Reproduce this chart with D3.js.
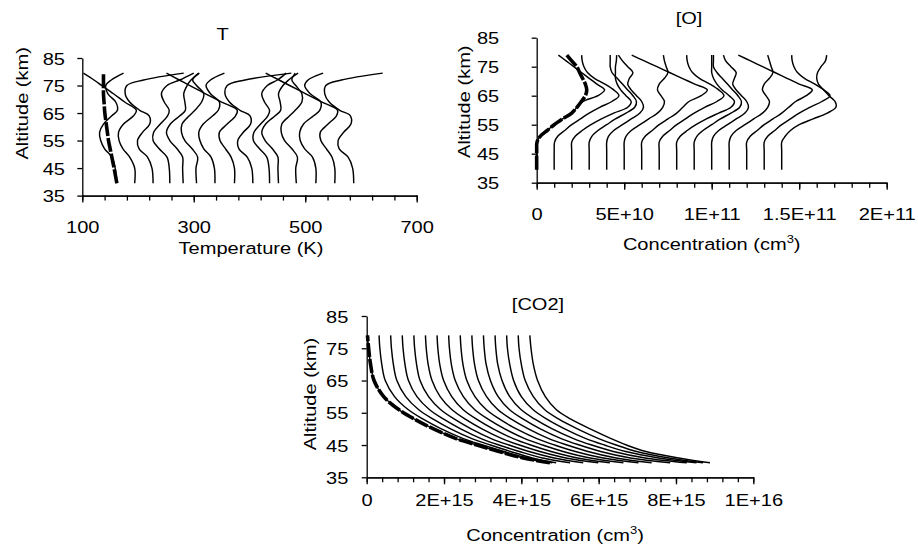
<!DOCTYPE html>
<html>
<head>
<meta charset="utf-8">
<script src="https://cdn.jsdelivr.net/npm/d3@7"></script>
<style>
  body { margin: 0; background: #fff; }
  svg { display: block; }
  text { font-family: "Liberation Sans", Arial, sans-serif; font-size: 17px; fill: #000; }
  .domain, .tick line { stroke: #000; stroke-width: 1.3px; }
</style>
</head>
<body>
<script>
// ---- T panel data (K) ----
const altT = [39.5, 45, 49, 52, 55, 58, 61, 64, 66, 69, 72, 75, 77, 79.5]
const tempMean = [162, 157, 153, 150, 147, 145, 143, 141, 140, 139, 138, 138, 138, 138]
const tempProfiles = [
  [161, 159, 153, 140, 133, 131, 138, 153, 163, 160, 146, 142, 152, 174],
  [194, 194, 185, 173, 166, 165, 174, 192, 197, 176, 156, 135, 121, 102],
  [227, 225, 217, 202, 199, 208, 221, 220, 203, 185, 177, 180, 210, 282],
  [257, 256, 252, 238, 227, 228, 240, 253, 256, 247, 242, 252, 275, 300],
  [281, 280, 280, 270, 257, 251, 258, 275, 285, 284, 282, 288, 295, 310],
  [305, 304, 307, 297, 284, 278, 279, 292, 302, 314, 318, 305, 298, 309],
  [338, 337, 331, 318, 311, 309, 317, 334, 344, 346, 330, 322, 330, 355],
  [373, 373, 367, 357, 347, 346, 360, 375, 378, 350, 321, 293, 274, 251],
  [406, 404, 396, 381, 379, 389, 402, 401, 383, 364, 356, 360, 392, 475],
  [436, 435, 431, 418, 407, 408, 420, 433, 436, 427, 422, 432, 450, 466],
  [452, 451, 451, 441, 428, 422, 429, 446, 456, 455, 452, 460, 470, 487],
  [484, 483, 486, 476, 463, 457, 458, 472, 482, 494, 494, 483, 476, 482],
  [519, 519, 513, 499, 491, 490, 497, 515, 526, 528, 509, 499, 505, 532],
  [553, 553, 548, 538, 528, 527, 541, 556, 558, 530, 501, 472, 453, 429],
  [587, 585, 577, 561, 559, 569, 582, 581, 562, 543, 535, 537, 565, 639]
]
const tempMajor = [100, 300, 500, 700]
const tempLabels = ['100', '300', '500', '700']

// ---- [O] panel data (1E+10 cm-3) ----
const altO = [39.5, 46, 49, 51, 53, 55, 57, 59, 61, 63, 65, 67, 69, 71, 73, 75, 77, 79]
const oxMean = [0, 0, 0.02, 0.2, 0.6, 1.0, 1.48, 2.0, 2.3, 2.55, 2.78, 2.86, 2.78, 2.62, 2.45, 2.29, 2.0, 1.72]
const oxProfiles = [
  [0, 0, 0.02, 0.2, 0.6, 1.0, 1.48, 2.0, 2.3, 2.65, 3.5, 3.88, 3.44, 3.0, 2.56, 2.12, 1.68, 1.24],
  [1, 1, 1.02, 1.2, 1.6, 2.0, 2.5, 3.0, 3.6, 4.3, 4.7, 4.4, 3.9, 3.3, 2.9, 2.7, 2.6, 2.57],
  [2, 2, 2, 2.2, 2.6, 3.1, 3.7, 4.4, 5.2, 5.4, 5.1, 4.8, 4.6, 4.5, 4.5, 4.5, 4.55, 4.57],
  [3, 3, 3, 3.15, 3.5, 4.0, 4.5, 5.1, 5.6, 5.7, 5.5, 5.2, 4.9, 4.6, 4.3, 4.2, 4.2, 4.2],
  [4, 4, 4, 4.1, 4.4, 4.9, 5.4, 5.9, 6.1, 6.0, 5.7, 5.4, 5.2, 5.3, 5.5, 5.2, 4.9, 4.67],
  [5, 5, 5, 5.1, 5.4, 5.9, 6.4, 6.9, 7.2, 7.3, 7.1, 6.9, 7.0, 7.3, 7.5, 7.4, 7.3, 7.24],
  [6, 6, 6, 6.2, 6.6, 7.0, 7.5, 8.0, 8.35, 8.7, 9.4, 9.75, 9.03, 8.31, 7.59, 6.87, 6.15, 5.43],
  [7, 7, 7, 7.2, 7.6, 8.0, 8.5, 9.0, 9.6, 10.3, 10.7, 10.4, 9.9, 9.3, 8.9, 8.7, 8.6, 8.57],
  [8, 8, 8, 8.2, 8.6, 9.1, 9.7, 10.4, 11.1, 11.3, 11.0, 10.6, 10.3, 10.1, 10.0, 10.0, 10.0, 10.0],
  [9, 9, 9, 9.15, 9.5, 10.0, 10.5, 11.1, 11.6, 11.7, 11.5, 11.2, 10.9, 10.6, 10.3, 10.1, 10.1, 10.1],
  [10, 10, 10, 10.1, 10.4, 10.9, 11.4, 11.9, 12.1, 12.0, 11.7, 11.4, 11.2, 11.3, 11.4, 11.1, 10.8, 10.67],
  [11, 11, 11, 11.1, 11.4, 11.9, 12.4, 12.9, 13.2, 13.3, 13.1, 12.9, 13.0, 13.3, 13.5, 13.4, 13.3, 13.2],
  [12, 12, 12, 12.2, 12.6, 13.0, 13.5, 14.0, 14.4, 14.8, 15.4, 15.75, 15.0, 14.3, 13.61, 12.91, 12.22, 11.52],
  [13, 13, 13, 13.2, 13.6, 14.0, 14.5, 15.0, 15.6, 16.3, 16.76, 16.4, 15.9, 15.3, 14.9, 14.7, 14.6, 14.57],
  [14, 14, 14, 14.2, 14.5, 15.0, 15.8, 16.6, 17.1, 17.05, 16.7, 16.4, 16.1, 16.0, 16.05, 16.25, 16.5, 16.57]
]
const oxMajor = [0, 5, 10, 15, 20]
const oxLabels = ['0', '5E+10', '1E+11', '1.5E+11', '2E+11']

// ---- [CO2] panel data (1E+15 cm-3) ----
const altC = [39.5, 41, 43, 45, 47, 50, 53, 56, 60, 65, 70, 75, 79]
const co2Mean = [4.74, 4.05, 3.42, 2.85, 2.31, 1.73, 1.24, 0.83, 0.44, 0.19, 0.10, 0.05, 0.02]
const co2Profiles = [
  [4.74, 4.05, 3.42, 2.85, 2.31, 1.73, 1.24, 0.83, 0.44, 0.19, 0.10, 0.05, 0.02],
  [4.80, 4.15, 3.55, 3.00, 2.50, 1.93, 1.46, 1.07, 0.72, 0.48, 0.39, 0.34, 0.32],
  [4.90, 4.28, 3.72, 3.20, 2.72, 2.17, 1.72, 1.34, 1.01, 0.78, 0.69, 0.64, 0.62],
  [5.26, 4.55, 3.95, 3.42, 2.96, 2.43, 1.99, 1.62, 1.30, 1.08, 0.99, 0.94, 0.92],
  [5.60, 4.85, 4.20, 3.68, 3.22, 2.70, 2.27, 1.91, 1.60, 1.38, 1.29, 1.24, 1.22],
  [5.99, 5.15, 4.48, 3.95, 3.50, 2.98, 2.55, 2.20, 1.90, 1.69, 1.59, 1.54, 1.52],
  [6.29, 5.45, 4.77, 4.24, 3.79, 3.27, 2.84, 2.49, 2.20, 1.99, 1.89, 1.84, 1.82],
  [6.64, 5.78, 5.08, 4.55, 4.09, 3.57, 3.14, 2.79, 2.50, 2.29, 2.19, 2.14, 2.12],
  [7.03, 6.12, 5.40, 4.86, 4.40, 3.87, 3.44, 3.09, 2.80, 2.59, 2.49, 2.44, 2.42],
  [7.37, 6.45, 5.72, 5.18, 4.71, 4.18, 3.74, 3.39, 3.10, 2.89, 2.79, 2.74, 2.72],
  [7.85, 6.82, 6.05, 5.50, 5.03, 4.49, 4.05, 3.69, 3.40, 3.20, 3.09, 3.04, 3.02],
  [8.28, 7.20, 6.38, 5.82, 5.35, 4.80, 4.35, 3.99, 3.70, 3.50, 3.39, 3.34, 3.32],
  [8.53, 7.55, 6.70, 6.15, 5.67, 5.12, 4.66, 4.30, 4.00, 3.80, 3.70, 3.64, 3.62],
  [8.70, 7.82, 6.98, 6.45, 6.00, 5.45, 4.97, 4.60, 4.31, 4.10, 4.00, 3.94, 3.92],
  [8.88, 8.07, 7.22, 6.72, 6.32, 5.78, 5.28, 4.90, 4.62, 4.42, 4.31, 4.25, 4.22]
]
const co2Major = [0, 2, 4, 6, 8, 10]
const co2Labels = ['0', '2E+15', '4E+15', '6E+15', '8E+15', '1E+16']

const altTicks = [35, 45, 55, 65, 75, 85]

// glyphs in the original are wider than Arial, stretch text along its run
const SX = 1.18

const svg = d3.select('body').append('svg')
  .attr('width', 918)
  .attr('height', 553)

const addText = (x, y, str, rot = 0) =>
  svg.append('text')
     .attr('transform', `translate(${x},${y}) rotate(${rot}) scale(${SX},1)`)
     .attr('text-anchor', 'middle')
     .text(str)

const drawPanel = p => {
  const x = d3.scaleLinear().domain(p.xDomain).range([p.left, p.right])
  const y = d3.scaleLinear().domain([35, 85]).range([p.bottom, p.top])
  const g = svg.append('g')

  const line = d3.line()
                 .x(d => x(d[0]))
                 .y(d => y(d[1]))
                 .curve(d3.curveCatmullRom.alpha(0.5))

  p.profiles.forEach(vals => {
    g.append('path')
     .datum(vals.map((v, i) => [v, p.alts[i]]))
     .attr('d', line)
     .attr('fill', 'none')
     .attr('stroke', '#000')
     .attr('stroke-width', 1.45)
  })

  // mean profile, heavy dashed
  g.append('path')
   .datum(p.mean.map((v, i) => [v, p.alts[i]]))
   .attr('d', line)
   .attr('fill', 'none')
   .attr('stroke', '#000')
   .attr('stroke-width', 3.6)
   .attr('stroke-dasharray', '14,2')

  // x axis: minor ticks then labelled ticks
  const step = (p.xMajor[1] - p.xMajor[0]) / 5
  const minor = d3.range(p.xDomain[0], p.xDomain[1] + step / 2, step)
  g.append('g')
   .attr('transform', `translate(0,${p.bottom})`)
   .call(d3.axisBottom(x).tickValues(minor).tickSize(5).tickSizeOuter(0).tickFormat(''))

  const xAxis = g.append('g')
   .attr('transform', `translate(0,${p.bottom})`)
   .call(d3.axisBottom(x).tickValues(p.xMajor).tickSize(7).tickSizeOuter(0)
           .tickFormat((d, i) => p.xLabels[i]))
  xAxis.selectAll('text')
       .attr('y', p.xLabelY)
       .attr('dy', 0)
       .attr('transform', `scale(${SX},1)`)

  const yAxis = g.append('g')
   .attr('transform', `translate(${p.left},0)`)
   .call(d3.axisLeft(y).tickValues(altTicks).tickSize(5).tickSizeOuter(0))
  yAxis.selectAll('text')
       .attr('x', -p.yLabelGap / SX)
       .attr('dy', '0.36em')
       .attr('transform', `scale(${SX},1)`)

  addText(p.title[0], p.title[1], p.titleText)
  addText(p.yTitle[0], p.yTitle[1], 'Altitude (km)', -90)

  const xt = svg.append('text')
    .attr('transform', `translate(${p.xTitle[0]},${p.xTitle[1]}) scale(${SX},1)`)
    .attr('text-anchor', 'middle')
  if (p.sup) {
    xt.append('tspan').text('Concentration (cm')
    xt.append('tspan').attr('font-size', '11px').attr('dy', -7).text('3')
    xt.append('tspan').attr('dy', 7).text(')')
  } else {
    xt.text(p.xTitleText)
  }
}

drawPanel({
  xDomain: [100, 700], left: 82.3, right: 416.7, top: 58, bottom: 195.6,
  alts: altT, profiles: tempProfiles, mean: tempMean,
  xMajor: tempMajor, xLabels: tempLabels, xLabelY: 37.5, yLabelGap: 17.3,
  title: [222.5, 40], titleText: 'T',
  xTitle: [251, 253.5], xTitleText: 'Temperature (K)', yTitle: [27.5, 103.3]
})

drawPanel({
  xDomain: [0, 20], left: 536.7, right: 886.7, top: 37.7, bottom: 182.7,
  alts: altO, profiles: oxProfiles, mean: oxMean,
  xMajor: oxMajor, xLabels: oxLabels, xLabelY: 37.3, yLabelGap: 37.5,
  title: [689, 23.5], titleText: '[O]',
  xTitle: [711.7, 249.5], sup: true, yTitle: [470, 101.7]
})

drawPanel({
  xDomain: [0, 10], left: 366.7, right: 753.3, top: 316, bottom: 477.3,
  alts: altC, profiles: co2Profiles, mean: co2Mean,
  xMajor: co2Major, xLabels: co2Labels, xLabelY: 28.7, yLabelGap: 18.4,
  title: [538, 310], titleText: '[CO2]',
  xTitle: [555, 541], sup: true, yTitle: [315.5, 394]
})
</script>
</body>
</html>
